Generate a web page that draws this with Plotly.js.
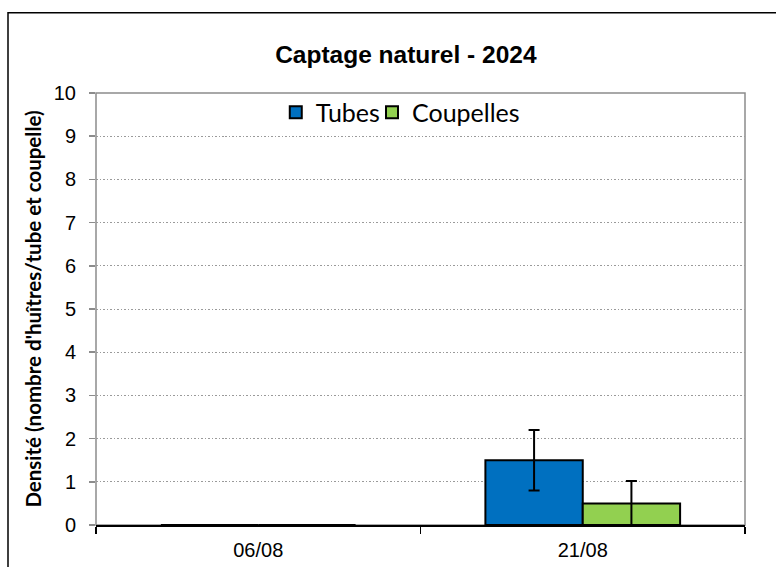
<!DOCTYPE html>
<html>
<head>
<meta charset="utf-8">
<script src="https://cdn.plot.ly/plotly-3.0.1.min.js"></script>
<style>html,body{margin:0;padding:0;background:#fff;}#chart{width:776px;height:567px;}</style>
</head>
<body>
<div id="chart"></div>
<script>
// Data
const categories = ["06/08", "21/08"];
const tubesValues = [0, 1.5];
const tubesErrors = [0, 0.7];
const coupellesValues = [0, 0.5];
const coupellesErrors = [0, 0.52];
const seriesNames = ["Tubes", "Coupelles"];
const yTickValues = [0,1,2,3,4,5,6,7,8,9,10];

const traces = [
  {
    type: "bar", name: seriesNames[0], x: categories, y: tubesValues, legend: "legend",
    marker: {color: "#0070C0", line: {color: "#000000", width: 2}},
    error_y: {type: "data", array: tubesErrors, visible: true, color: "#000000", thickness: 2, width: 5.5}
  },
  {
    type: "bar", name: seriesNames[1], x: categories, y: coupellesValues, legend: "legend2",
    marker: {color: "#92D050", line: {color: "#000000", width: 2}},
    error_y: {type: "data", array: coupellesErrors, visible: true, color: "#000000", thickness: 2, width: 5.5}
  }
];

const legendFont = {family: "Lato, sans-serif", size: 25, color: "#000"};

const layout = {
  width: 776, height: 567,
  margin: {l: 96, r: 31, t: 93, b: 42},
  paper_bgcolor: "#ffffff", plot_bgcolor: "#ffffff",
  barmode: "group", bargap: 0.4, bargroupgap: 0,
  showlegend: true,
  title: {
    text: "<b>Captage naturel - 2024</b>",
    font: {family: "Liberation Sans, Arial, sans-serif", size: 24.5, color: "#000"},
    xref: "container", x: 0.523, xanchor: "center",
    yref: "container", y: 1 - 54.5/567, yanchor: "middle"
  },
  legend: {
    orientation: "h", x: 0.277, xanchor: "left", y: 1.008, yanchor: "top",
    font: legendFont, bgcolor: "rgba(0,0,0,0)", borderwidth: 0
  },
  legend2: {
    orientation: "h", x: 0.4253, xanchor: "left", y: 1.008, yanchor: "top",
    font: legendFont, bgcolor: "rgba(0,0,0,0)", borderwidth: 0
  },
  xaxis: {
    type: "category", tickson: "boundaries",
    showline: true, linecolor: "#000000", linewidth: 1.5,
    ticks: "outside", ticklen: 7, tickwidth: 1.5, tickcolor: "#000000",
    showgrid: false, zeroline: false,
    tickfont: {family: "Liberation Sans, Arial, sans-serif", size: 20, color: "#000"},
    ticklabelstandoff: 6
  },
  yaxis: {
    range: [0, 10], tickvals: yTickValues, ticktext: yTickValues.map(String),
    showline: false, zeroline: false,
    ticks: "outside", ticklen: 6, tickwidth: 1.5, tickcolor: "#8c8c8c",
    showgrid: true, gridcolor: "#9a9a9a", gridwidth: 1, griddash: "1.5px,2px",
    tickfont: {family: "Liberation Sans, Arial, sans-serif", size: 20, color: "#000"},
    ticklabelstandoff: 9,
    title: {
      text: "<b>Densité (nombre d'huîtres/tube et coupelle)</b>",
      font: {family: "Lato, sans-serif", size: 20.5, color: "#000"},
      standoff: 6
    },
    automargin: false
  },
  shapes: [
    {type: "rect", xref: "paper", yref: "paper", x0: 0, x1: 1, y0: 0, y1: 1,
     line: {color: "#8c8c8c", width: 1.5}, fillcolor: "rgba(0,0,0,0)", layer: "below"},
    {type: "rect", xref: "paper", yref: "paper", x0: (8-96)/649, x1: 1.2, y0: -0.3, y1: 1 + (93-12.7)/432,
     line: {color: "#000000", width: 1.5}, fillcolor: "rgba(0,0,0,0)", layer: "below"}
  ]
};

Plotly.newPlot("chart", traces, layout, {displayModeBar: false, staticPlot: true});
</script>
</body>
</html>
